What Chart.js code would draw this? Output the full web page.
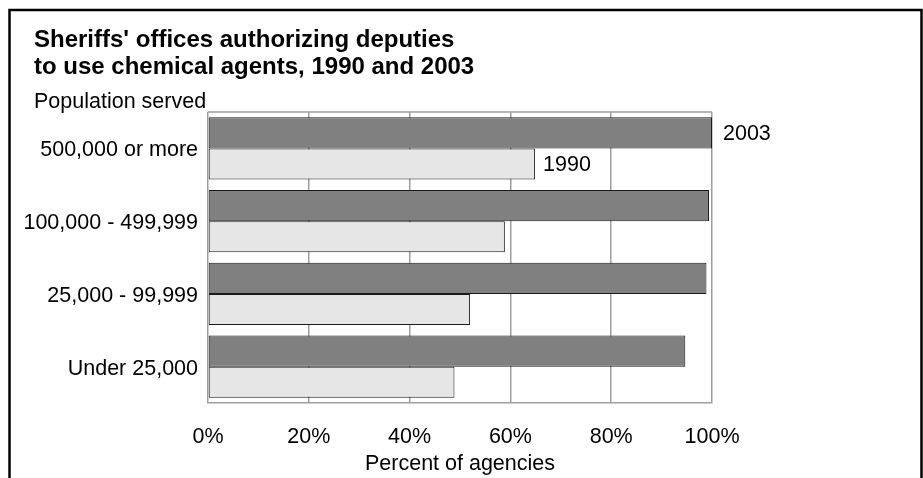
<!DOCTYPE html>
<html>
<head>
<meta charset="utf-8">
<script src="https://cdn.jsdelivr.net/npm/chart.js@4"></script>
<style>
body{margin:0;background:#fff}
canvas{display:block}
</style>
</head>
<body>
<canvas id="chart" width="923" height="478"></canvas>
<script>

// data
let groups=["500,000 or more","100,000 - 499,999","25,000 - 99,999","Under 25,000"]
let y2003=[100,99.4,98.9,94.7]
let y1990=[64.9,58.9,52,48.9]
let xTicks=[0,20,40,60,80,100]

let titleLines=["Sheriffs' offices authorizing deputies","to use chemical agents, 1990 and 2003"]
let axisNote="Population served"
let xTitle="Percent of agencies"

const FONT="'Liberation Sans', Arial, Helvetica, sans-serif"
const SIZE=21.5
const GRID="#9e9e9e"


// frame, title, plot box and end labels
const extras={
id:"extras",
beforeDatasetsDraw(chart){
const c=chart.ctx
const a=chart.chartArea
c.save()
c.strokeStyle=GRID
c.lineWidth=1.5
c.beginPath()
c.moveTo(a.left,a.top)
c.lineTo(a.right,a.top)
c.stroke()
c.restore()
},
afterDraw(chart){
const c=chart.ctx
c.save()
c.strokeStyle="#000"
c.lineWidth=2.5
c.strokeRect(9.5,10,912,480)

c.fillStyle="#000"
c.textBaseline="alphabetic"
c.textAlign="left"
c.font="bold 24px "+FONT
c.fillText(titleLines[0],34,47)
c.fillText(titleLines[1],34,74)
c.font=SIZE+"px "+FONT
c.fillText(axisNote,34,108)

// series name at the end of the first bar of each series
const gaps=[11,8]
chart.data.datasets.forEach((ds,i)=>{
const bar=chart.getDatasetMeta(i).data[0]
c.textBaseline="middle"
c.fillText(ds.label,bar.x+gaps[i],bar.y+1.5)
})
c.restore()
}
}


new Chart(document.getElementById("chart"),{
type:"bar",
data:{
labels:groups,
datasets:[{
label:"2003",
data:y2003,
backgroundColor:"#808080",
borderColor:"#1a1a1a",
borderWidth:1,
borderSkipped:false
},{
label:"1990",
data:y1990,
backgroundColor:"#e6e6e6",
borderColor:"#1a1a1a",
borderWidth:1,
borderSkipped:false
}]
},
options:{
indexAxis:"y",
responsive:false,
devicePixelRatio:1,
animation:false,
layout:{padding:{left:0,top:112,right:211,bottom:0}},
datasets:{bar:{categoryPercentage:0.854,barPercentage:1}},
plugins:{legend:{display:false},tooltip:{enabled:false}},
scales:{
x:{
min:0,
max:100,
afterBuildTicks(s){s.ticks=xTicks.map(v=>({value:v}))},
afterFit(s){s.height=75},
grid:{color:GRID,lineWidth:1.5,drawTicks:false},
border:{color:GRID,width:1.5},
ticks:{
padding:21,
color:"#000",
font:{family:FONT,size:SIZE},
callback:v=>v+"%"
},
title:{
display:true,
text:xTitle,
color:"#000",
font:{family:FONT,size:SIZE},
padding:{top:0,bottom:1}
}
},
y:{
afterFit(s){s.width=208},
grid:{display:false,drawTicks:false},
border:{display:false},
ticks:{
padding:10,
labelOffset:2,
color:"#000",
font:{family:FONT,size:SIZE}
}
}
}
},
plugins:[extras]
})

</script>
</body>
</html>
